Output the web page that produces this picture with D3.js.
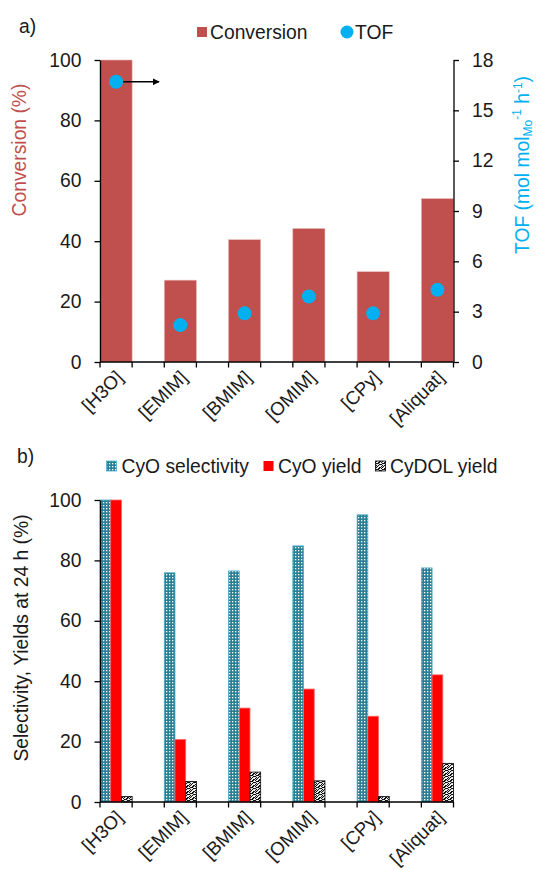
<!DOCTYPE html>
<html>
<head>
<meta charset="utf-8">
<script src="https://cdn.jsdelivr.net/npm/d3@7"></script>
<style>
  html, body { margin: 0; padding: 0; background: #fff; }
  svg { display: block; font-family: "Liberation Sans", Arial, Helvetica, sans-serif; }
</style>
</head>
<body>
<svg id="chart" width="537" height="870"></svg>
<script>
// ---------- data ----------
const categories = ["[H3O]", "[EMIM]", "[BMIM]", "[OMIM]", "[CPy]", "[Aliquat]"];
const conversion = [100, 27.1, 40.5, 44.2, 29.9, 54.1];
const tof = [16.7, 2.2, 2.9, 3.9, 2.9, 4.3];
const selectivity = [100, 75.9, 76.5, 84.8, 95.1, 77.5];
const cyoYield = [100, 20.7, 31.1, 37.4, 28.4, 42.1];
const cydolYield = [1.8, 6.8, 9.9, 7.0, 1.8, 12.8];
const leftTicks = [0, 20, 40, 60, 80, 100];
const tofTicks = [0, 3, 6, 9, 12, 15, 18];

// ---------- setup ----------
const svg = d3.select("#chart");
const FS = 19.3;
const FSX = 18.8;
const textColor = "#1a1a1a";
const convColor = "#C0504D";
const tofColor = "#00B0F0";
const tealColor = "#2B7F95";

const defs = svg.append("defs");
// CyO selectivity: teal small grid
const pSel = defs.append("pattern").attr("id", "pSel").attr("patternUnits", "userSpaceOnUse")
  .attr("width", 3).attr("height", 3);
pSel.append("rect").attr("width", 3).attr("height", 3).attr("fill", tealColor);
pSel.append("rect").attr("x", 1).attr("y", 1).attr("width", 1.3).attr("height", 1.3).attr("fill", "#ffffff");
// CyDOL: confetti
const pDol = defs.append("pattern").attr("id", "pDol").attr("patternUnits", "userSpaceOnUse")
  .attr("width", 6).attr("height", 6);
pDol.append("rect").attr("width", 6).attr("height", 6).attr("fill", "#ffffff");
[[0,0],[1,0],[3,0],[4,1],[5,1],[1,2],[2,2],[4,3],[0,3],[3,4],[5,4],[1,5],[2,5],[4,5],[0,1],[3,2]].forEach(([x,y]) => {
  pDol.append("rect").attr("x", x).attr("y", y).attr("width", 1.1).attr("height", 1.1).attr("fill", "#111");
});
const arrowM = defs.append("marker").attr("id", "arrow").attr("viewBox", "0 0 10 10")
  .attr("refX", 9).attr("refY", 5).attr("markerWidth", 7).attr("markerHeight", 7)
  .attr("markerUnits", "userSpaceOnUse").attr("orient", "auto");
arrowM.append("path").attr("d", "M0,0 L10,5 L0,10 Z").attr("fill", "#000");

const x0 = 100, x1 = 453.5;
const step = (x1 - x0) / 5.5;
const x = d3.scaleBand().domain(categories).range([x0, x0 + step * categories.length]).paddingInner(0).paddingOuter(0);
const halfTicks = d3.range(12).map(i => x0 + i * step / 2);

function styleAxis(g) {
  g.selectAll("path.domain").attr("stroke", "#000").attr("stroke-width", 1.3);
  g.selectAll(".tick line").attr("stroke", "#000").attr("stroke-width", 1.3);
  g.selectAll(".tick text").attr("fill", textColor).attr("font-size", FS);
}

function drawXAxis(yPos) {
  const g = svg.append("g");
  g.append("line").attr("x1", x0).attr("x2", x1).attr("y1", yPos).attr("y2", yPos)
    .attr("stroke", "#000").attr("stroke-width", 1.3);
  g.selectAll("line.t").data(halfTicks).enter().append("line")
    .attr("x1", d => d).attr("x2", d => d).attr("y1", yPos).attr("y2", yPos + 5.5)
    .attr("stroke", "#000").attr("stroke-width", 1.3);
  g.selectAll("text").data(categories).enter().append("text")
    .attr("transform", d => `translate(${x(d) + step / 2 - 8},${yPos + 16.5}) rotate(-45)`)
    .attr("text-anchor", "end").attr("font-size", FSX).attr("fill", textColor).text(d => d);
}

// ================= chart a =================
const yA = d3.scaleLinear().domain([0, 100]).range([362, 60]);
const yT = d3.scaleLinear().domain([0, 18]).range([362, 60]);

svg.selectAll("rect.conv").data(categories).enter().append("rect")
  .attr("x", d => x(d)).attr("width", step / 2)
  .attr("y", (d, i) => yA(conversion[i])).attr("height", (d, i) => yA(0) - yA(conversion[i]))
  .attr("fill", convColor).attr("stroke", "#E6B9B8").attr("stroke-width", 0.6);

const axL = svg.append("g").attr("transform", `translate(${x0},0)`)
  .call(d3.axisLeft(yA).tickValues(leftTicks).tickSize(5.5).tickPadding(13).tickSizeOuter(0));
styleAxis(axL);
const axR = svg.append("g").attr("transform", `translate(${x1},0)`)
  .call(d3.axisRight(yT).tickValues(tofTicks).tickSize(5.5).tickPadding(13).tickSizeOuter(0));
styleAxis(axR);
drawXAxis(362);

// TOF arrow
svg.append("line").attr("x1", x(categories[0]) + step / 4).attr("y1", yT(tof[0]))
  .attr("x2", x(categories[0]) + step / 4 + 43).attr("y2", yT(tof[0]))
  .attr("stroke", "#000").attr("stroke-width", 1.5).attr("marker-end", "url(#arrow)");
svg.selectAll("circle.tof").data(categories).enter().append("circle")
  .attr("cx", d => x(d) + step / 4).attr("cy", (d, i) => yT(tof[i])).attr("r", 7)
  .attr("fill", tofColor);

// axis titles
svg.append("text").attr("transform", "translate(26,150) rotate(-90)")
  .attr("text-anchor", "middle").attr("font-size", FS).attr("fill", convColor).text("Conversion (%)");
const tofTitle = svg.append("text").attr("transform", "translate(529,165) rotate(-90)")
  .attr("text-anchor", "middle").attr("font-size", FS).attr("fill", tofColor);
tofTitle.append("tspan").text("TOF (mol mol");
tofTitle.append("tspan").attr("font-size", 12).attr("dy", 3).text("Mo");
tofTitle.append("tspan").attr("font-size", 12).attr("dy", -11).text("-1");
tofTitle.append("tspan").attr("dy", 8).text(" h");
tofTitle.append("tspan").attr("font-size", 12).attr("dy", -7).text("-1");
tofTitle.append("tspan").attr("dy", 7).text(")");

// legend a
svg.append("text").attr("x", 19).attr("y", 33).attr("font-size", FS).attr("fill", textColor).text("a)");
svg.append("rect").attr("x", 197).attr("y", 27).attr("width", 10).attr("height", 10).attr("fill", convColor);
svg.append("text").attr("x", 210).attr("y", 39).attr("font-size", FS).attr("fill", textColor).text("Conversion");
svg.append("circle").attr("cx", 347).attr("cy", 32).attr("r", 6.5).attr("fill", tofColor);
svg.append("text").attr("x", 355).attr("y", 39).attr("font-size", FS).attr("fill", textColor).text("TOF");

// ================= chart b =================
const yB = d3.scaleLinear().domain([0, 100]).range([802, 500]);
const sub = d3.scaleBand().domain(["sel", "yld", "dol"]).range([0, step / 2]);
const seriesB = [
  { key: "sel", values: selectivity, fill: "url(#pSel)", stroke: "#4BACC6" },
  { key: "yld", values: cyoYield, fill: "#FF0000", stroke: "#FF6666" },
  { key: "dol", values: cydolYield, fill: "url(#pDol)", stroke: "#000" }
];
seriesB.forEach(s => {
  svg.selectAll(`rect.b-${s.key}`).data(categories).enter().append("rect")
    .attr("x", d => x(d) + sub(s.key)).attr("width", sub.bandwidth())
    .attr("y", (d, i) => yB(s.values[i])).attr("height", (d, i) => yB(0) - yB(s.values[i]))
    .attr("fill", s.fill).attr("stroke", s.stroke).attr("stroke-width", 0.8);
});
const axLB = svg.append("g").attr("transform", `translate(${x0},0)`)
  .call(d3.axisLeft(yB).tickValues(leftTicks).tickSize(5.5).tickPadding(13).tickSizeOuter(0));
styleAxis(axLB);
drawXAxis(802);

svg.append("text").attr("transform", "translate(28,638) rotate(-90)")
  .attr("text-anchor", "middle").attr("font-size", FS).attr("fill", textColor)
  .text("Selectivity, Yields at 24 h (%)");

// legend b
svg.append("text").attr("x", 17).attr("y", 463).attr("font-size", FS).attr("fill", textColor).text("b)");
svg.append("rect").attr("x", 106.5).attr("y", 461).attr("width", 10).attr("height", 10)
  .attr("fill", "url(#pSel)").attr("stroke", "#4BACC6").attr("stroke-width", 0.8);
svg.append("text").attr("x", 121.5).attr("y", 473).attr("font-size", FS).attr("fill", textColor).text("CyO selectivity");
svg.append("rect").attr("x", 263.5).attr("y", 461).attr("width", 10).attr("height", 10).attr("fill", "#FF0000");
svg.append("text").attr("x", 278).attr("y", 473).attr("font-size", FS).attr("fill", textColor).text("CyO yield");
svg.append("rect").attr("x", 375.5).attr("y", 461).attr("width", 10).attr("height", 10)
  .attr("fill", "url(#pDol)").attr("stroke", "#000").attr("stroke-width", 0.8);
svg.append("text").attr("x", 390).attr("y", 473).attr("font-size", FS).attr("fill", textColor).text("CyDOL yield");
</script>
</body>
</html>
